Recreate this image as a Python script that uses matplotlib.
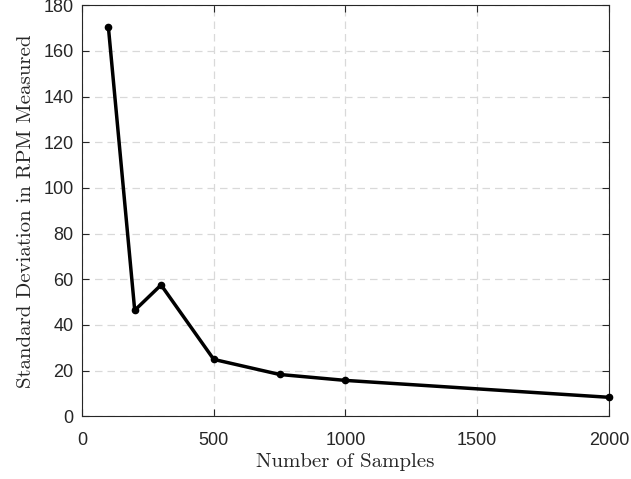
import numpy as np
import matplotlib
matplotlib.use('Agg')
import matplotlib.pyplot as plt

# data
samples = [100, 200, 300, 500, 750, 1000, 2000]
std_rpm = [170.5, 46.4, 57.5, 24.9, 18.3, 15.7, 8.3]

xticks = [0, 500, 1000, 1500, 2000]
yticks = [0, 20, 40, 60, 80, 100, 120, 140, 160, 180]

plt.rcParams['font.family'] = ['Liberation Sans', 'DejaVu Sans']

fig = plt.figure(figsize=(6.31, 4.79), dpi=100)
ax = fig.add_axes([0.130, 0.131, 0.835, 0.858])

ax.plot(samples, std_rpm, 'k.-', linewidth=2.5, markersize=9, zorder=3,
        clip_on=False)

ax.set_xlim([0, 2000])
ax.set_ylim([0, 180])
ax.set_xticks(xticks)
ax.set_yticks(yticks)

ax.grid(True, color='#d9d9d9', linestyle=(0, (6, 4)), linewidth=0.9)
ax.set_axisbelow(True)

for s in ax.spines.values():
    s.set_color('#262626')
    s.set_linewidth(0.8)
ax.tick_params(direction='in', top=True, right=True, length=5,
               colors='#262626', labelsize=13, width=0.8)
ax.tick_params(axis='x', pad=11)
ax.tick_params(axis='y', pad=6)

ax.set_xlabel('Number of Samples', fontfamily='cmr10', fontsize=15,
              color='#262626', labelpad=3)
ax.set_ylabel('Standard Deviation in RPM Measured', fontfamily='cmr10',
              fontsize=15, color='#262626', labelpad=6)

fig.savefig('out.png', dpi=100)
